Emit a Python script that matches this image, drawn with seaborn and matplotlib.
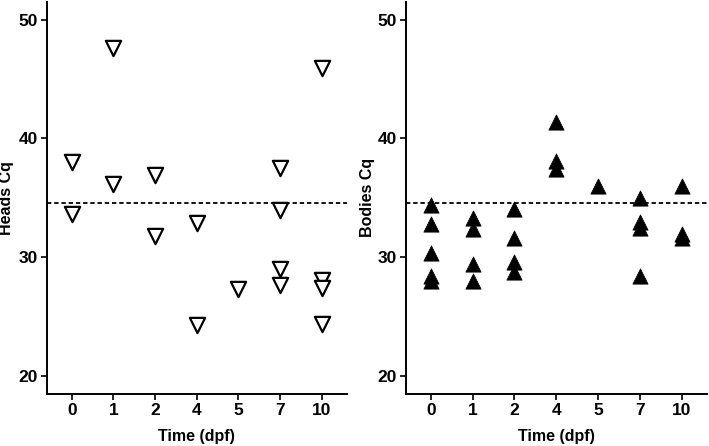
import pandas as pd
import matplotlib.pyplot as plt
import seaborn as sns

# time points (dpf) shown on the x axis
time_order = ['0', '1', '2', '4', '5', '7', '10']

# heads Cq values
heads_time = ['0', '0', '1', '1', '2', '2', '4', '4', '5',
              '7', '7', '7', '7', '10', '10', '10', '10']
heads_cq = [38.0, 33.6, 47.6, 36.2, 36.9, 31.8, 32.9, 24.3, 27.3,
            37.5, 34.0, 29.0, 27.7, 45.9, 28.1, 27.4, 24.4]

# bodies Cq values
bodies_time = ['0', '0', '0', '0', '0', '1', '1', '1', '1',
               '2', '2', '2', '2', '4', '4', '4', '5',
               '7', '7', '7', '7', '10', '10', '10']
bodies_cq = [34.4, 32.8, 30.4, 28.4, 28.0, 33.3, 32.4, 29.4, 28.0,
             34.1, 31.6, 29.6, 28.8, 41.4, 38.1, 37.4, 36.0,
             35.0, 33.0, 32.5, 28.4, 36.0, 32.0, 31.6]

cutoff = 34.6

heads_df = pd.DataFrame({'time': heads_time, 'cq': heads_cq})
bodies_df = pd.DataFrame({'time': bodies_time, 'cq': bodies_cq})

sns.set_style('white')
plt.rcParams['font.family'] = ['Liberation Sans', 'DejaVu Sans']

fig = plt.figure(figsize=(7.09, 4.46), dpi=100)
ax1 = fig.add_axes([0.0659, 0.1166, 0.4231, 0.8796])
ax2 = fig.add_axes([0.5722, 0.1166, 0.4245, 0.8796])

# open down triangles for heads
sns.stripplot(data=heads_df, x='time', y='cq', order=time_order, jitter=False,
              marker='v', s=11, color='white', edgecolor='black',
              linewidth=1.6, ax=ax1)
# filled up triangles for bodies
sns.stripplot(data=bodies_df, x='time', y='cq', order=time_order, jitter=False,
              marker='^', s=11, color='black', edgecolor='black',
              linewidth=0.5, ax=ax2)

for ax, lab, lx in [(ax1, 'Heads Cq', -0.109), (ax2, 'Bodies Cq', -0.102)]:
    ax.axhline(cutoff, color='black', ls=(0, (2.4, 1.6)), lw=1.3, zorder=0)
    ax.set_xlim(-0.6, 6.6)
    ax.set_ylim(18.5, 51.5)
    ax.set_yticks([20, 30, 40, 50])
    ax.set_xlabel('Time (dpf)', fontsize=11.5, fontweight='bold',
                  color='black', labelpad=8)
    ax.set_ylabel(lab, fontsize=11.5, fontweight='bold', color='black')
    ax.yaxis.set_label_coords(lx, 0.5)
    for s in ['top', 'right']:
        ax.spines[s].set_visible(False)
    for s in ['left', 'bottom']:
        ax.spines[s].set_linewidth(1.4)
        ax.spines[s].set_color('black')
    ax.tick_params(axis='both', length=4, width=1.2, color='black', pad=2.5,
                   labelsize=12.5, labelcolor='black', direction='out',
                   left=True, bottom=True)
    for t in ax.get_xticklabels() + ax.get_yticklabels():
        t.set_fontweight('bold')

plt.savefig('out.png', dpi=100)
plt.close()
